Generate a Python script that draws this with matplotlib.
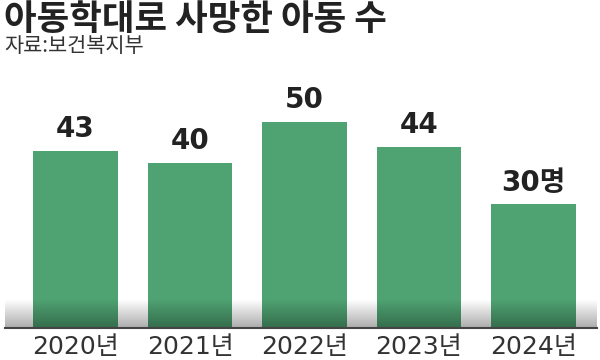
import numpy as np
import matplotlib
matplotlib.use("Agg")
import matplotlib.pyplot as plt

plt.rcParams['font.family'] = ['Noto Sans CJK KR', 'DejaVu Sans']
num_font = ['DejaVu Sans', 'Noto Sans CJK KR']

years = ["2020년", "2021년", "2022년", "2023년", "2024년"]
deaths = [43, 40, 50, 44, 30]
value_labels = ["43", "40", "50", "44", "30명"]

W, H = 600, 360
fig = plt.figure(figsize=(6, 3.6), dpi=100)
# axes spans x 5..597 px, y 60..328 px
ax = fig.add_axes([5 / W, (H - 328) / H, 592 / W, 268 / H])

x = np.arange(len(years))
green = '#4fa272'
bars = ax.bar(x, deaths, width=0.742, color=green, zorder=2)

ax.set_xlim(-0.616, 4.555)
ax.set_ylim(0, 65)

# soft gray shadow near the baseline
grad = np.zeros((100, 2, 4))
grad[:, :, 3] = np.linspace(0.0, 0.33, 100)[:, None]
ax.imshow(grad, extent=[-0.616, 4.555, 0, 6.8], aspect='auto',
          origin='upper', zorder=3, interpolation='bilinear')

for b, lab in zip(bars, value_labels):
    ax.annotate(lab, (b.get_x() + b.get_width() / 2, b.get_height()),
                xytext=(0, 5.5), textcoords='offset points',
                ha='center', va='bottom', fontsize=20, fontweight='bold',
                color='#222222', family=num_font)

for s in ['top', 'right', 'left']:
    ax.spines[s].set_visible(False)
ax.spines['bottom'].set_color('#444444')
ax.spines['bottom'].set_linewidth(1.5)
ax.spines['bottom'].set_zorder(4)
ax.set_yticks([])
ax.set_xticks(x)
ax.set_xticklabels(years, fontsize=18, color='#333333', family=num_font)
ax.tick_params(axis='x', length=0, pad=5)

fig.text(4 / W, 1 - 30 / H, "아동학대로 사망한 아동 수", fontsize=25.5,
         fontweight='bold', color='#222222', va='baseline', ha='left')
fig.text(4 / W, 1 - 52 / H, "자료:보건복지부", fontsize=15,
         color='#333333', va='baseline', ha='left')

fig.savefig("out.png", dpi=100)
